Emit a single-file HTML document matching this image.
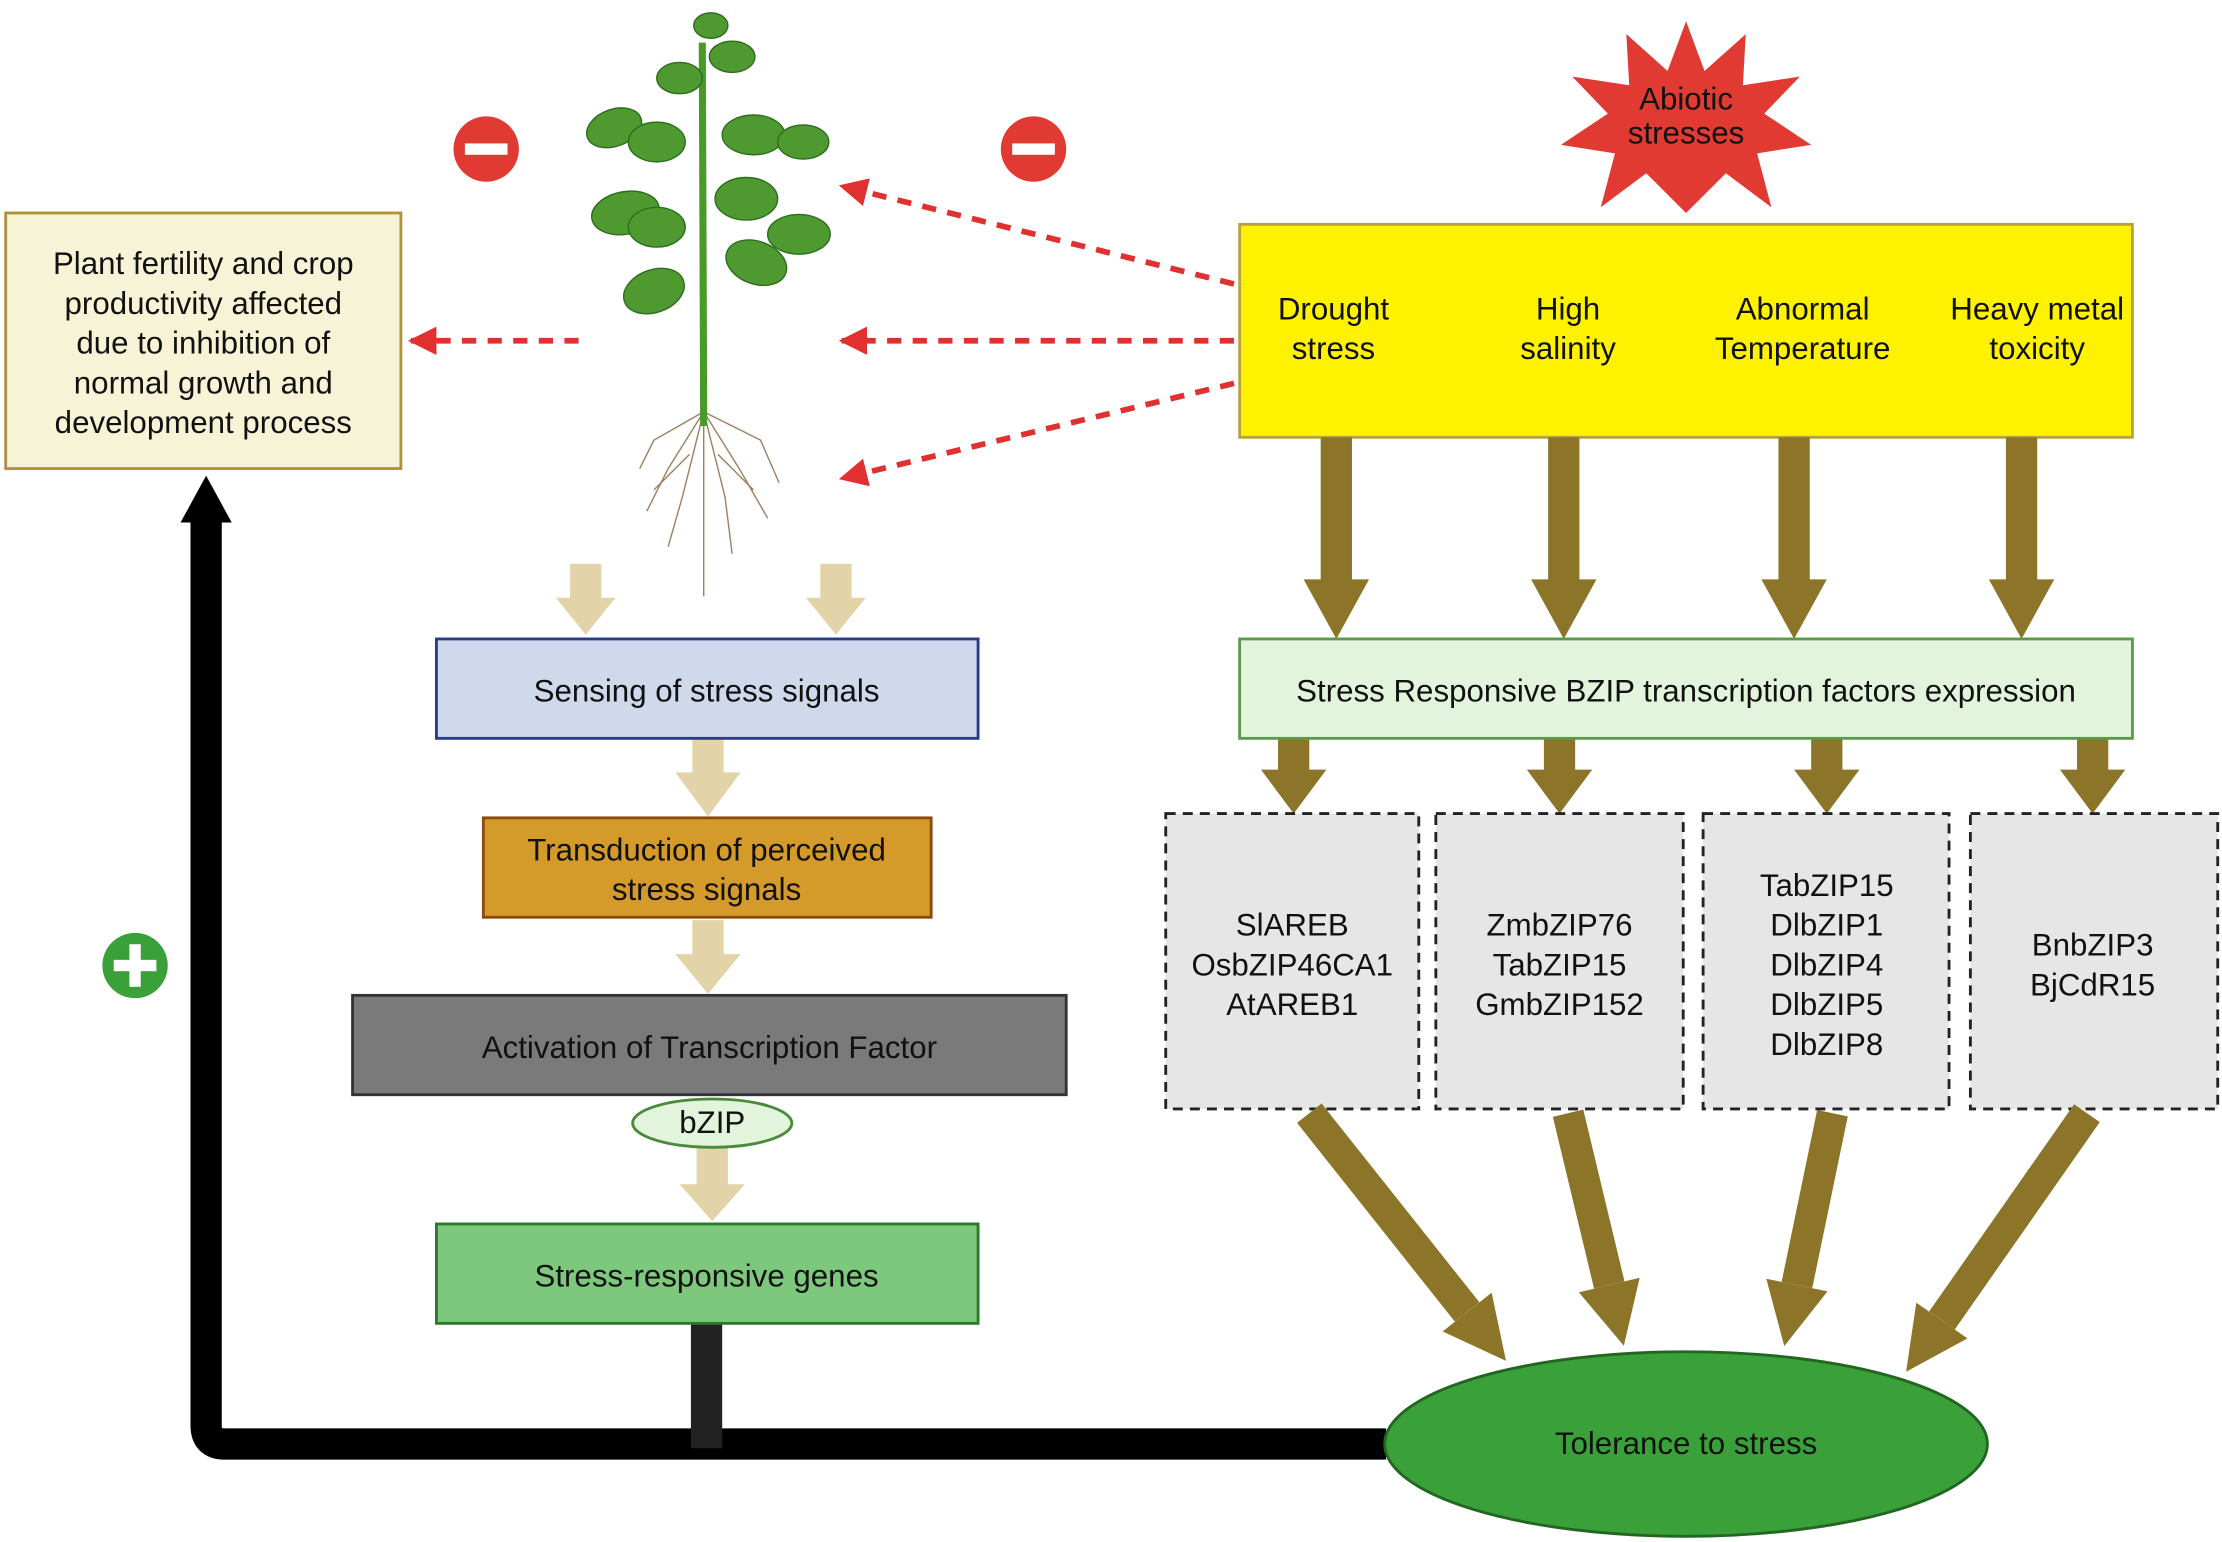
<!DOCTYPE html>
<html><head><meta charset="utf-8"><style>
html,body{margin:0;padding:0;background:#fff;}
svg{display:block;}
text{font-family:"Liberation Sans",sans-serif;font-size:22px;fill:#111;text-anchor:middle;}
</style></head><body>
<svg width="2222" height="1542" viewBox="0 0 1563 1086" preserveAspectRatio="none" xmlns="http://www.w3.org/2000/svg">
<defs>
<marker id="rh" viewBox="0 0 10 10" refX="9" refY="5" markerWidth="5" markerHeight="5" orient="auto"><path d="M0,0L10,5L0,10z" fill="#e03030"/></marker>
<marker id="bh" viewBox="0 0 10 10" refX="0" refY="5" markerWidth="2" markerHeight="2" orient="auto"><path d="M0,0L10,5L0,10z" fill="#8c7428"/></marker>
</defs>
<!-- star -->
<polygon fill="#e03a33" points="1186,15 1199,50 1228,24 1226,60 1266,54 1241,80 1274,102 1236,108 1246,146 1214,122 1186,150 1158,122 1126,146 1136,108 1098,102 1131,80 1106,54 1146,60 1144,24 1173,50"/>
<text x="1186" y="77">Abiotic</text>
<text x="1186" y="101">stresses</text>
<!-- yellow box -->
<rect x="872" y="158" width="628" height="150" fill="#fff200" stroke="#b8a23a" stroke-width="2"/>
<text x="938" y="225">Drought</text><text x="938" y="253">stress</text>
<text x="1103" y="225">High</text><text x="1103" y="253">salinity</text>
<text x="1268" y="225">Abnormal</text><text x="1268" y="253">Temperature</text>
<text x="1433" y="225">Heavy metal</text><text x="1433" y="253">toxicity</text>
<!-- brown arrows -->
<g fill="#8c7428">
<path d="M929,308h22v100h12l-23,42l-23,-42h12z"/>
<path d="M1089,308h22v100h12l-23,42l-23,-42h12z"/>
<path d="M1251,308h22v100h12l-23,42l-23,-42h12z"/>
<path d="M1411,308h22v100h12l-23,42l-23,-42h12z"/>
<path d="M899,520h22v22h12l-23,31l-23,-31h12z"/>
<path d="M1086,520h22v22h12l-23,31l-23,-31h12z"/>
<path d="M1274,520h22v22h12l-23,31l-23,-31h12z"/>
<path d="M1461,520h22v22h12l-23,31l-23,-31h12z"/>
</g>
<rect x="872" y="450" width="628" height="70" fill="#e2f5dc" stroke="#5a9a4a" stroke-width="2"/>
<text x="1186" y="494">Stress Responsive BZIP transcription factors expression</text>
<!-- dashed boxes -->
<g fill="#e6e6e6" stroke="#222" stroke-width="2" stroke-dasharray="7,5">
<rect x="820" y="573" width="178" height="208"/>
<rect x="1010" y="573" width="174" height="208"/>
<rect x="1198" y="573" width="173" height="208"/>
<rect x="1386" y="573" width="174" height="208"/>
</g>
<text x="909" y="659">SlAREB</text><text x="909" y="687">OsbZIP46CA1</text><text x="909" y="715">AtAREB1</text>
<text x="1097" y="659">ZmbZIP76</text><text x="1097" y="687">TabZIP15</text><text x="1097" y="715">GmbZIP152</text>
<text x="1285" y="631">TabZIP15</text><text x="1285" y="659">DlbZIP1</text><text x="1285" y="687">DlbZIP4</text><text x="1285" y="715">DlbZIP5</text><text x="1285" y="743">DlbZIP8</text>
<text x="1472" y="673">BnbZIP3</text><text x="1472" y="701">BjCdR15</text>
<!-- big arrows to ellipse -->
<g stroke="#8c7428" stroke-width="22" fill="none" marker-end="url(#bh)">
<line x1="921" y1="784" x2="1032" y2="924"/>
<line x1="1103" y1="784" x2="1132" y2="905"/>
<line x1="1289" y1="784" x2="1264" y2="905"/>
<line x1="1468" y1="784" x2="1366" y2="930"/>
</g>
<!-- black line -->
<path d="M975,1017H158Q145,1017 145,1004V366" stroke="#000" stroke-width="22" fill="none"/>
<polygon points="145,335 127,368 163,368" fill="#000"/>
<rect x="486" y="932" width="22" height="88" fill="#222"/>
<ellipse cx="1186" cy="1017" rx="212" ry="65" fill="#3aa03a" stroke="#226622" stroke-width="2"/>
<text x="1186" y="1024">Tolerance to stress</text>
<!-- left box -->
<rect x="4" y="150" width="278" height="180" fill="#f7f3d6" stroke="#b0923c" stroke-width="2"/>
<text x="143" y="193">Plant fertility and crop</text>
<text x="143" y="221">productivity affected</text>
<text x="143" y="249">due to inhibition of</text>
<text x="143" y="277">normal growth and</text>
<text x="143" y="305">development process</text>
<!-- signs -->
<circle cx="342" cy="105" r="23" fill="#e03a33"/><rect x="327" y="101" width="30" height="8" fill="#fff"/>
<circle cx="727" cy="105" r="23" fill="#e03a33"/><rect x="712" y="101" width="30" height="8" fill="#fff"/>
<circle cx="95" cy="680" r="23" fill="#3aa03a"/><rect x="80" y="676" width="30" height="8" fill="#fff"/><rect x="91" y="665" width="8" height="30" fill="#fff"/>
<!-- red dashed -->
<g stroke="#e03030" stroke-width="4" stroke-dasharray="10,8" fill="none" marker-end="url(#rh)">
<line x1="868" y1="200" x2="592" y2="131"/>
<line x1="868" y1="240" x2="592" y2="240"/>
<line x1="868" y1="270" x2="592" y2="337"/>
<line x1="407" y1="240" x2="289" y2="240"/>
</g>
<!-- plant -->
<g stroke="#a08060" stroke-width="1" fill="none">
<path d="M495,290 L470,330 L455,360"/><path d="M495,290 L520,330 L540,365"/><path d="M495,290 L480,350 L470,385"/>
<path d="M495,290 L510,350 L515,390"/><path d="M495,290 L460,310 L450,330"/><path d="M495,290 L535,310 L548,340"/>
<path d="M495,290 L495,420"/><path d="M485,320 L460,345"/><path d="M505,320 L530,345"/>
</g>
<path d="M495,300 L494,30" stroke="#4a9a2a" stroke-width="5" fill="none"/>
<g fill="#4e9a30" stroke="#2f6e1e" stroke-width="1">
<ellipse cx="460" cy="205" rx="22" ry="15" transform="rotate(-20 460 205)"/>
<ellipse cx="532" cy="185" rx="22" ry="15" transform="rotate(20 532 185)"/>
<ellipse cx="440" cy="150" rx="24" ry="15" transform="rotate(-10 440 150)"/>
<ellipse cx="562" cy="165" rx="22" ry="14"/>
<ellipse cx="462" cy="160" rx="20" ry="14"/>
<ellipse cx="525" cy="140" rx="22" ry="15"/>
<ellipse cx="432" cy="90" rx="20" ry="13" transform="rotate(-20 432 90)"/>
<ellipse cx="462" cy="100" rx="20" ry="14"/>
<ellipse cx="530" cy="95" rx="22" ry="14"/>
<ellipse cx="565" cy="100" rx="18" ry="12"/>
<ellipse cx="478" cy="55" rx="16" ry="11"/>
<ellipse cx="515" cy="40" rx="16" ry="11"/>
<ellipse cx="500" cy="18" rx="12" ry="9"/>
</g>
<!-- beige arrows -->
<g fill="#e2d3a8">
<path d="M401,397h22v24h10l-21,26l-21,-26h10z"/>
<path d="M577,397h22v24h10l-21,26l-21,-26h10z"/>
<path d="M487,520h22v24h12l-23,31l-23,-31h12z"/>
<path d="M487,648h22v24h12l-23,28l-23,-28h12z"/>
<path d="M490,808h22v26h12l-23,26l-23,-26h12z"/>
</g>
<rect x="307" y="450" width="381" height="70" fill="#d0d8ec" stroke="#2a3a8a" stroke-width="2"/>
<text x="497" y="494">Sensing of stress signals</text>
<rect x="340" y="576" width="315" height="70" fill="#d49a2a" stroke="#8a4a10" stroke-width="2"/>
<text x="497" y="606">Transduction of perceived</text><text x="497" y="634">stress signals</text>
<rect x="248" y="701" width="502" height="70" fill="#7a7a7a" stroke="#333" stroke-width="2"/>
<text x="499" y="745" fill="#1a1a1a">Activation of Transcription Factor</text>
<ellipse cx="501" cy="791" rx="56" ry="17" fill="#e2f5dc" stroke="#4a8a3a" stroke-width="2"/>
<text x="501" y="798">bZIP</text>
<rect x="307" y="862" width="381" height="70" fill="#7dc87d" stroke="#2a7a2a" stroke-width="2"/>
<text x="497" y="906">Stress-responsive genes</text>
</svg>
</body></html>
